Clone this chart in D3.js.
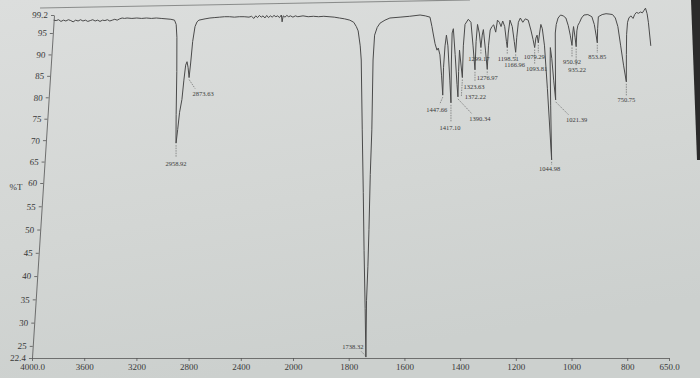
<!DOCTYPE html>
<html>
<head>
<meta charset="utf-8">
<script src="https://cdn.jsdelivr.net/npm/d3@7"></script>
<style>
  html, body { margin: 0; padding: 0; background: #d5d8d6; }
  svg { display: block; }
  text { font-family: "Liberation Serif", "DejaVu Serif", serif; fill: #3a3a3a; }
  .axis path, .axis line { stroke: #555; stroke-width: 0.8; }
</style>
</head>
<body>
<svg id="chart" width="700" height="378"></svg>
<script>
// tick labels
const xTicks = [4000, 3600, 3200, 2800, 2400, 2000, 1800, 1600, 1400, 1200, 1000, 800, 650]
const yTicks = [22.4, 25, 30, 35, 40, 45, 50, 55, 60, 65, 70, 75, 80, 85, 90, 95, 99.2]

// spectrum, wavenumber (cm-1) and %T
const spectrumWn = [
  4000, 3980, 3960, 3940, 3920, 3900, 3880, 3860, 3840, 3820, 3800, 3780, 3760, 3740, 3720, 3700,
  3680, 3660, 3640, 3620, 3600, 3580, 3560, 3540, 3520, 3500, 3480, 3460, 3440, 3420, 3400, 3360,
  3320, 3280, 3240, 3200, 3160, 3120, 3080, 3040, 3010, 2995, 2985, 2975, 2967, 2961, 2958.92, 2950,
  2940, 2925, 2915, 2905, 2895, 2885, 2873.63, 2865, 2855, 2840, 2825, 2810, 2760, 2720, 2680, 2640,
  2600, 2560, 2520, 2480, 2440, 2400, 2380, 2360, 2345, 2330, 2315, 2300, 2285, 2270, 2255, 2240,
  2225, 2210, 2195, 2180, 2165, 2150, 2135, 2128, 2120, 2105, 2090, 2075, 2060, 2040, 2020, 2000,
  1980, 1960, 1940, 1920, 1900, 1880, 1860, 1840, 1820, 1800, 1785, 1775, 1768, 1760, 1756, 1752,
  1748, 1745, 1741, 1738.32, 1736, 1731, 1727, 1722, 1716, 1711, 1705, 1695, 1684, 1665, 1646, 1607,
  1570, 1530, 1510, 1492, 1485, 1481, 1474, 1467, 1462, 1456, 1451, 1447.66, 1443, 1436, 1430, 1425,
  1420, 1417.10, 1413, 1408, 1403, 1398, 1393, 1390.34, 1386, 1381, 1377, 1372.22, 1366, 1358, 1345, 1335,
  1329, 1323.63, 1317, 1310, 1304, 1299.17, 1293, 1288, 1282, 1276.97, 1270, 1262, 1255, 1248, 1241, 1233,
  1226, 1220, 1213, 1206, 1201, 1198.51, 1193, 1185, 1177, 1171, 1166.96, 1161, 1153, 1145, 1136, 1126,
  1115, 1106, 1099, 1093.81, 1088, 1083, 1079.29, 1073, 1067, 1062, 1056, 1051, 1048, 1044.98, 1041, 1037,
  1034, 1030, 1026, 1021.39, 1017, 1013, 1008, 1000, 990, 980, 970, 962, 956, 950.92, 946, 942,
  938, 935.22, 930, 925, 918, 910, 900, 885, 870, 862, 857, 853.85, 850, 845, 830, 815,
  800, 790, 780, 772, 765, 758, 750.75, 745, 740, 734, 728, 720, 712, 705, 698, 690,
  682, 675, 668, 662, 657, 654, 650
]
const spectrumT = [
  98.0, 97.9, 98.1, 97.7, 98.0, 97.8, 98.1, 97.9, 97.6, 98.0, 97.8, 98.1, 97.8, 98.0, 97.7, 97.9,
  98.1, 97.8, 98.0, 97.7, 98.0, 97.9, 98.1, 97.8, 98.0, 98.2, 98.0, 98.3, 98.5, 98.4, 98.5, 98.4,
  98.5, 98.4, 98.5, 98.4, 98.5, 98.4, 98.3, 98.2, 98.0, 97.0, 94.0, 86.0, 76.0, 70.5, 69.3, 72.5,
  76.5, 79.5, 84.0, 87.5, 88.3, 87.0, 84.6, 88.0, 93.0, 96.5, 97.6, 98.0, 98.3, 98.5, 98.6, 98.7,
  98.8, 98.8, 98.7, 98.8, 98.8, 98.7, 98.9, 98.4, 99.0, 98.6, 99.1, 98.7, 99.0, 98.5, 99.1, 98.6,
  99.0, 98.7, 99.1, 98.8, 99.0, 98.6, 99.2, 97.6, 99.0, 98.7, 99.1, 98.8, 99.0, 98.7, 99.0, 98.8,
  99.0, 98.8, 98.9, 98.8, 98.9, 98.8, 98.7, 98.5, 98.3, 98.0, 97.5, 96.5, 95.5, 92.0, 88.7, 72.4,
  58.0, 45.5, 33.0, 22.6, 34.7, 42.0, 50.0, 62.0, 72.4, 88.7, 94.5, 96.3, 97.3, 98.0, 98.5, 98.7,
  98.9, 99.2, 99.0, 98.7, 96.5, 95.0, 92.5, 91.0, 91.5, 89.9, 85.0, 80.5, 87.0, 92.0, 94.5, 92.0,
  84.0, 78.7, 88.0, 95.0, 96.0, 90.0, 83.0, 80.1, 86.0, 91.0, 88.0, 84.6, 92.0, 97.0, 98.2, 97.5,
  92.0, 86.4, 93.0, 97.0, 95.0, 91.6, 94.5, 95.8, 91.0, 86.5, 92.0, 95.7, 96.5, 96.9, 95.2, 98.0,
  97.5, 96.5, 97.8, 96.5, 93.0, 91.6, 95.0, 98.0, 96.5, 93.0, 90.5, 94.0, 97.5, 98.5, 97.5, 98.3,
  98.0, 95.7, 93.5, 91.6, 93.8, 94.5, 92.7, 95.0, 97.0, 96.0, 92.0, 82.0, 74.0, 65.4, 78.0, 88.0,
  91.6, 89.0, 84.0, 79.4, 88.0, 95.0, 97.0, 98.5, 99.2, 99.0, 98.5, 96.7, 94.5, 92.1, 95.0, 96.5,
  94.0, 91.8, 95.5, 96.8, 97.5, 98.5, 99.2, 99.3, 98.8, 97.0, 94.5, 92.7, 96.0, 98.8, 99.3, 99.5,
  99.4, 99.3, 98.5, 96.5, 92.0, 87.5, 83.6, 90.0, 94.7, 97.5, 98.5, 99.0, 98.4, 99.3, 99.8, 99.6,
  99.9, 99.7, 100.3, 100.8, 99.5, 97.5, 92.0
]

// labelled peaks
const peakWn = [2958.92, 2873.63, 1738.32, 1447.66, 1417.10, 1390.34, 1372.22, 1323.63, 1299.17,
  1276.97, 1198.51, 1166.96, 1093.81, 1079.29, 1044.98, 1021.39, 950.92, 935.22, 853.85, 750.75]

// where each label sits relative to its peak tip (px) and where its leader ends
const labelLayout = [
  { dx: 0, dy: 21, lx: 0, ly: 14 }, { dx: 14, dy: 16, lx: 6, ly: 11 }, { dx: -13, dy: -10, lx: -5, ly: -6 },
  { dx: -6, dy: 15, lx: -3, ly: 9 }, { dx: -1, dy: 25, lx: 0, ly: 19 }, { dx: 22, dy: 22, lx: 14, ly: 17 },
  { dx: 13, dy: 19, lx: -1, ly: 19 }, { dx: -1, dy: 17, lx: 0, ly: 12 }, { dx: -2, dy: 11, lx: 0, ly: 7 },
  { dx: 0, dy: 8.5, lx: 0, ly: 5 }, { dx: 1, dy: 11, lx: 0, ly: 7 }, { dx: -1, dy: 12, lx: 0, ly: 8 },
  { dx: 2, dy: 21, lx: 0, ly: 17 }, { dx: -4, dy: 14, lx: 0, ly: 10 }, { dx: -2, dy: 9, lx: 0, ly: 5 },
  { dx: 21, dy: 20, lx: 13, ly: 15 }, { dx: 0, dy: 16, lx: 0, ly: 12 }, { dx: 1, dy: 23, lx: 0, ly: 19 },
  { dx: 0, dy: 14, lx: 0, ly: 10 }, { dx: 0, dy: 18, lx: 0, ly: 14 }
]

const svg = d3.select('#chart')

// paper background
const defs = svg.append('defs')
const grad = defs.append('linearGradient').attr('id', 'paper').attr('x1', 0).attr('y1', 0).attr('x2', 0.3).attr('y2', 1)
grad.append('stop').attr('offset', '0%').attr('stop-color', '#dcdedd')
grad.append('stop').attr('offset', '60%').attr('stop-color', '#d3d6d4')
grad.append('stop').attr('offset', '100%').attr('stop-color', '#ccd0ce')
svg.append('rect').attr('width', 700).attr('height', 378).attr('fill', 'url(#paper)')
svg.append('line').attr('x1', 40).attr('y1', 8).attr('x2', 470).attr('y2', 0)
  .attr('stroke', '#8a8c8b').attr('stroke-width', 1.2)
svg.append('path').attr('d', 'M691,0L700,0L700,160L697,160Z').attr('fill', '#2b2b2b')

// piecewise wavenumber axis (scale change at 2000)
const x = d3.scaleLinear().domain([4000, 2000, 650]).range([32, 293, 669])
const y = d3.scaleLinear().domain([22.4, 60, 99.2]).range([358, 183, 15])

// the print was photographed at an angle: top edge narrower than bottom
const CX = 366
const BASE = 358
const K = 0.066 / 343
function warp (px, py) {
  const s = 1 - K * (BASE - py)
  return [CX + (px - CX) * s, py]
}

// axes
svg.append('g').attr('class', 'axis')
  .attr('transform', `translate(0,${BASE})`)
  .call(d3.axisBottom(x).tickValues(xTicks).tickSize(3).tickSizeOuter(0).tickPadding(3)
    .tickFormat(d => (d === 4000 || d === 650) ? d.toFixed(1) : d))
  .call(g => g.selectAll('text').style('font-size', '9px').attr('fill', '#3a3a3a'))

const skew = (CX - 32) * K
svg.append('g').attr('class', 'axis')
  .attr('transform', `matrix(1,0,${-skew},1,${32 + skew * BASE},0)`)
  .call(d3.axisLeft(y).tickValues(yTicks).tickSize(3).tickSizeOuter(0).tickPadding(3)
    .tickFormat(d => d % 1 ? d.toFixed(1) : d))
  .call(g => g.selectAll('text').style('font-size', '9px').attr('fill', '#3a3a3a'))

svg.append('text').attr('x', 16).attr('y', 187).attr('dy', '0.35em')
  .attr('text-anchor', 'middle').style('font-size', '9px').text('%T')

// spectrum
const spectrum = spectrumWn.map((w, i) => [w, spectrumT[i]])
const line = d3.line()
  .x(d => warp(x(d[0]), y(d[1]))[0])
  .y(d => y(d[1]))
svg.append('path').datum(spectrum)
  .attr('d', line)
  .attr('fill', 'none')
  .attr('stroke', '#4a4a4a')
  .attr('stroke-width', 1)
  .attr('stroke-linejoin', 'round')

// peak labels
const fmt = d3.format('.2f')
const peaks = peakWn.map((w, i) => {
  const t = spectrumT[spectrumWn.indexOf(w)]
  const p = warp(x(w), y(t))
  return { w, t, px: p[0], py: p[1], lay: labelLayout[i] }
})

svg.append('g').selectAll('line').data(peaks).join('line')
  .attr('x1', d => d.px)
  .attr('y1', d => d.py + (d.lay.dy < 0 ? -1 : 2))
  .attr('x2', d => d.px + d.lay.lx)
  .attr('y2', d => d.py + d.lay.ly)
  .attr('stroke', '#555')
  .attr('stroke-width', 0.6)
  .attr('stroke-dasharray', '1.5,1')

svg.append('g').selectAll('text').data(peaks).join('text')
  .attr('x', d => d.px + d.lay.dx)
  .attr('y', d => d.py + d.lay.dy)
  .attr('dy', '0.35em')
  .attr('text-anchor', 'middle')
  .style('font-size', '6.5px')
  .text(d => fmt(d.w))
</script>
</body>
</html>
